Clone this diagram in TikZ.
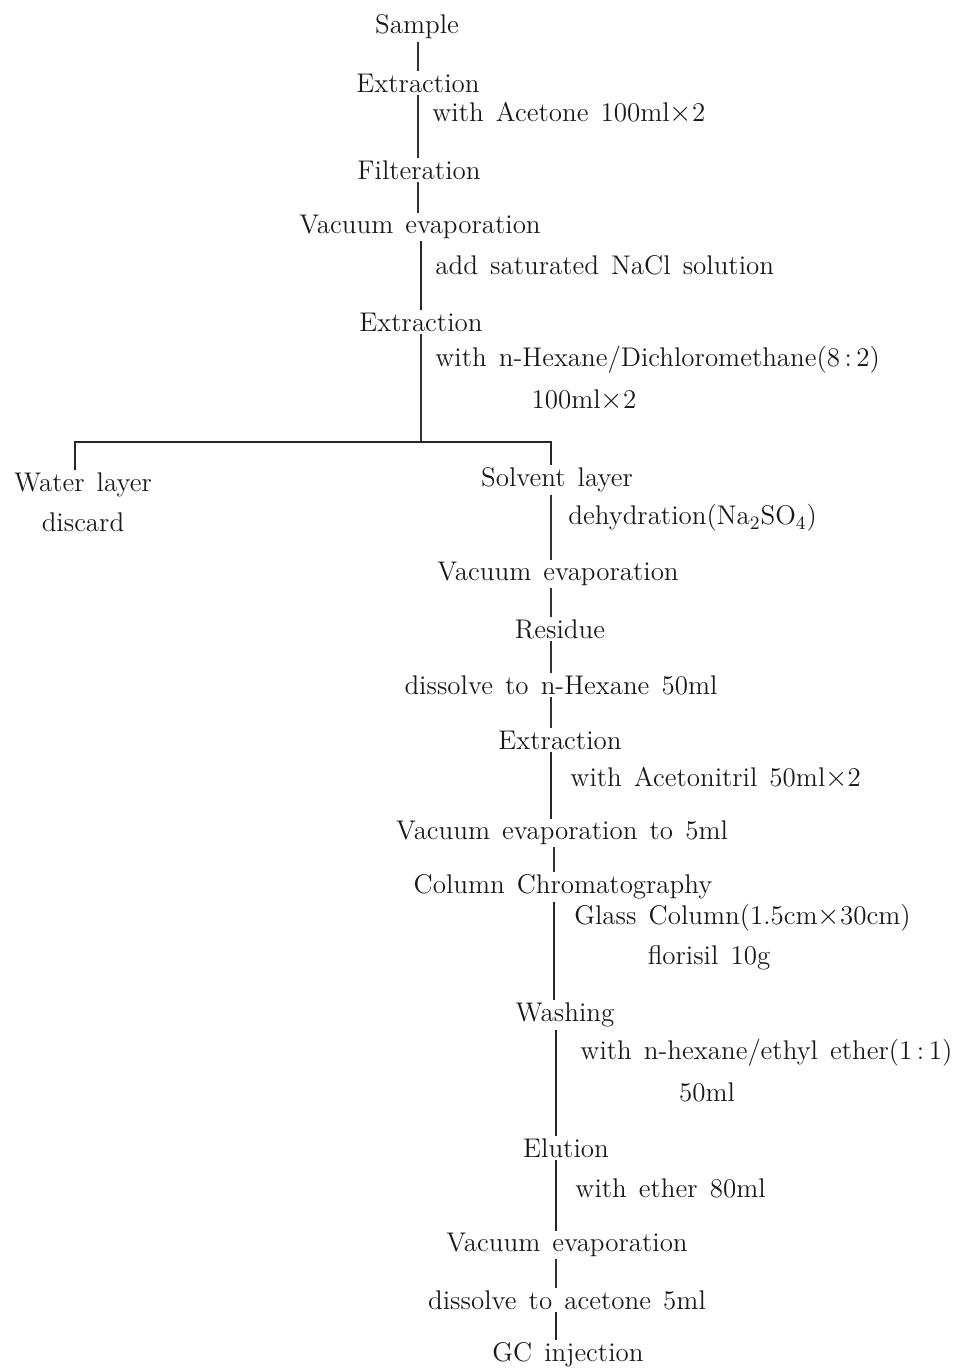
\documentclass[tikz,border=0pt]{standalone}
\usetikzlibrary{positioning}
\newcommand\flowfont{\fontsize{13.5}{15}\selectfont\spaceskip=0.45em plus 0.1em\relax}
\tikzset{
  stage/.style={anchor=center},
  cond/.style={anchor=west},
  flow/.style={line width=0.6pt, draw=black!80},
  thickflow/.style={line width=1.1pt, draw=black!85}
}
\begin{document}
\begin{tikzpicture}[x=0.5pt, y=-0.5pt,
    every node/.style={inner sep=1pt, text=black!90, font=\flowfont}]
  \useasboundingbox (0,0) rectangle (972,1368);
  % spine positions
  \coordinate (spA) at (418,0);
  \coordinate (spB) at (421,0);
  \coordinate (spC) at (551,0);
  \coordinate (spD) at (554,0);
  \coordinate (spE) at (556,0);
  \coordinate (spW) at (75,0);

  % first part
  \node[stage] (sample) at (417,27) {Sample};
  \node[stage] (ext1) at (418,83) {Extraction};
  \node[cond] (acetone) at (430,113) {with Acetone 100ml$\times$2};
  \node[stage] (filt) at (419,170) {Filteration};
  \node[stage] (vac1) at (420,227) {Vacuum evaporation};
  \node[cond] (nacl) at (433,265) {add saturated NaCl solution};
  \node[stage] (ext2) at (421,322) {Extraction};
  \node[cond] (hexdcm) at (433,360) {with n-Hexane/Dichloromethane(8\,:\,2)};
  \node[stage] (hexdcmq) at (584,400) {100ml$\times$2};

  % separation
  \coordinate (split) at (421,442);
  \node[stage] (water) at (83,485) {Water layer};
  \node[stage] (discard) at (83,522) {discard};
  \node[stage] (solv) at (557,480) {Solvent layer};
  \node[cond] (dehyd) at (566,518) {dehydration(Na\textsubscript{2}SO\textsubscript{4})};

  % solvent branch
  \node[stage] (vac2) at (558,574) {Vacuum evaporation};
  \node[stage] (resid) at (560,629) {Residue};
  \node[stage] (diss1) at (561,685) {dissolve to n-Hexane 50ml};
  \node[stage] (ext3) at (560,740) {Extraction};
  \node[cond] (acn) at (568,778) {with Acetonitril 50ml$\times$2};
  \node[stage] (vac3) at (562,833) {Vacuum evaporation to 5ml};
  \node[stage] (colchr) at (563,887) {Column Chromatography};
  \node[cond] (glass) at (572,918) {Glass Column(1.5cm$\times$30cm)};
  \node[stage] (flor) at (709,958) {florisil 10g};
  \node[stage] (wash) at (565,1015) {Washing};
  \node[cond] (hexeth) at (578,1053) {with n-hexane/ethyl ether(1\,:\,1)};
  \node[stage] (hexethq) at (707,1092) {50ml};
  \node[stage] (elut) at (566,1148) {Elution};
  \node[cond] (ether) at (573,1188) {with ether 80ml};
  \node[stage] (vac4) at (567,1245) {Vacuum evaporation};
  \node[stage] (diss2) at (567,1300) {dissolve to acetone 5ml};
  \node[stage] (gc) at (568,1355) {GC injection};

  % connectors
  \draw[flow] (sample.south -| spA) -- (ext1.north -| spA);
  \draw[flow] (ext1.south -| spA) -- (filt.north -| spA);
  \draw[flow] (filt.south -| spA) -- (vac1.north -| spA);
  \draw[thickflow] (vac1.south -| spB) -- (ext2.north -| spB);
  \draw[flow] (ext2.south -| spB) -- (split);
  \draw[thickflow] (split) -- (split -| spC) -- (solv.north -| spC);
  \draw[thickflow] (split) -- (split -| spW) -- (water.north -| spW);
  \draw[flow] (solv.south -| spC) -- (vac2.north -| spC);
  \draw[flow] (vac2.south -| spC) -- (resid.north -| spC);
  \draw[flow] (resid.south -| spC) -- (diss1.north -| spC);
  \draw[flow] (diss1.south -| spC) -- (ext3.north -| spC);
  \draw[thickflow] (ext3.south -| spC) -- (vac3.north -| spC);
  \draw[flow] (vac3.south -| spD) -- (colchr.north -| spD);
  \draw[thickflow] (colchr.south -| spD) -- (wash.north -| spD);
  \draw[thickflow] (wash.south -| spE) -- (elut.north -| spE);
  \draw[thickflow] (elut.south -| spE) -- (vac4.north -| spE);
  \draw[flow] (vac4.south -| spE) -- (diss2.north -| spE);
  \draw[thickflow] (diss2.south -| spE) -- (gc.north -| spE);
\end{tikzpicture}
\end{document}
